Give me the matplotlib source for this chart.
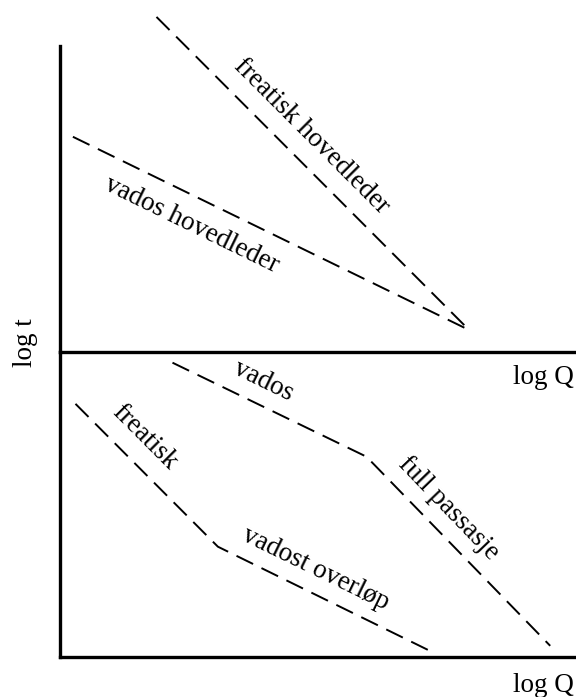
import matplotlib.pyplot as plt

plt.rcParams['font.family'] = ['Liberation Serif', 'DejaVu Serif']

# upper panel: main conduits (log Q, log t)
freatisk_hoved_q = [1.87, 7.93]
freatisk_hoved_t = [6.57, 0.43]
vados_hoved_q = [0.25, 7.93]
vados_hoved_t = [4.22, 0.43]

# lower panel: conduits with bends
vados_q = [2.18, 5.94, 9.50]
vados_t = [5.79, 3.94, 0.22]
freatisk_q = [0.30, 3.06, 7.17]
freatisk_t = [4.98, 2.17, 0.12]

top_labels = [("freatisk hovedleder", 4.87, 4.24, -45),
              ("vados hovedleder", 2.55, 2.49, -26)]
bottom_labels = [("vados", 3.94, 5.42, -26),
                 ("full passasje", 7.52, 2.93, -46),
                 ("freatisk", 1.63, 4.33, -45),
                 ("vadost overløp", 4.96, 1.73, -26)]

DASH = (0, (9.5, 4.8))


def setup(ax):
    ax.set_xlim(0, 10)
    ax.set_ylim(0, 6)
    for side in ["top", "right"]:
        ax.spines[side].set_visible(False)
    for side in ["left", "bottom"]:
        ax.spines[side].set_linewidth(2.4)
    ax.set_xticks([])
    ax.set_yticks([])
    ax.patch.set_alpha(0)


def add_labels(ax, labels):
    for txt, x, y, rot in labels:
        ax.text(x, y, txt, rotation=rot, rotation_mode="anchor",
                ha="center", va="center", fontsize=19.5)


fig = plt.figure(figsize=(5.76, 6.97), dpi=100)
ax_top = fig.add_axes([60 / 576, 345 / 697, 516 / 576, 306 / 697])
ax_bot = fig.add_axes([60 / 576, 40 / 697, 516 / 576, 305 / 697])

setup(ax_top)
setup(ax_bot)

ax_top.plot(freatisk_hoved_q, freatisk_hoved_t, color="black", lw=1.4, ls=DASH, clip_on=False)
ax_top.plot(vados_hoved_q, vados_hoved_t, color="black", lw=1.4, ls=DASH, clip_on=False)
add_labels(ax_top, top_labels)

ax_bot.plot(vados_q, vados_t, color="black", lw=1.4, ls=DASH, clip_on=False)
ax_bot.plot(freatisk_q, freatisk_t, color="black", lw=1.4, ls=DASH, clip_on=False)
add_labels(ax_bot, bottom_labels)

# axis titles
fig.text(543 / 576, 1 - 378 / 697, "log Q", ha="center", va="center", fontsize=19.5)
fig.text(543 / 576, 1 - 685 / 697, "log Q", ha="center", va="center", fontsize=19.5)
fig.text(26 / 576, 1 - 343 / 697, "log t", rotation=90, ha="center", va="center", fontsize=19.5)

fig.savefig("out.png", dpi=100)
